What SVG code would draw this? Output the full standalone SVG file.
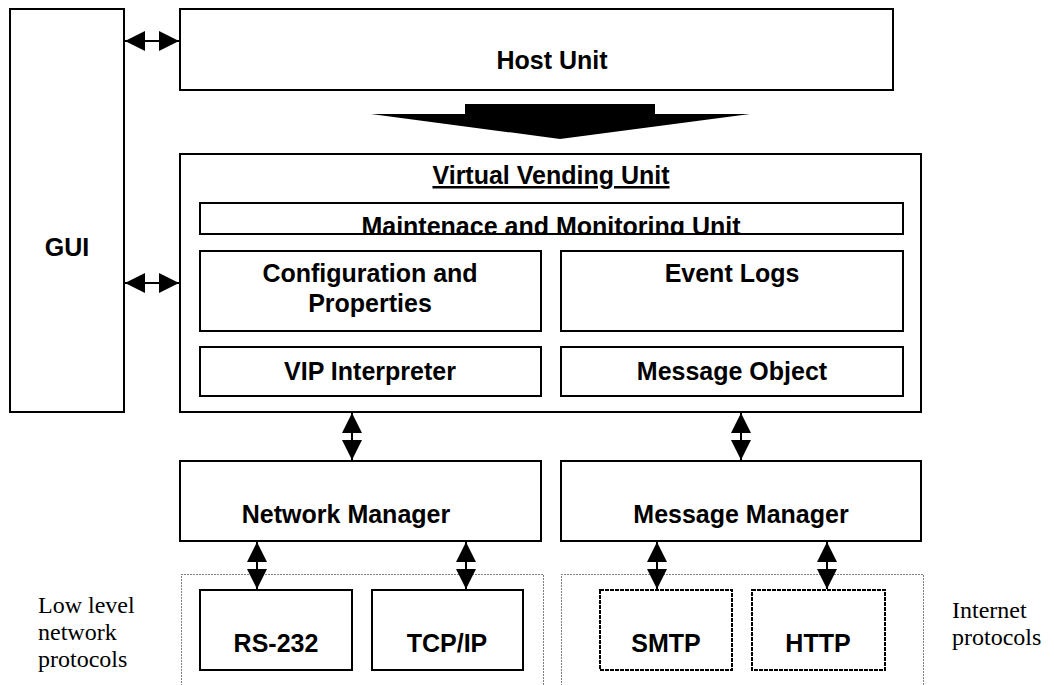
<svg xmlns="http://www.w3.org/2000/svg" width="1054" height="685" viewBox="0 0 1054 685">
<style>
.box{fill:#fff;stroke:#000;stroke-width:2}
.dash{fill:#fff;stroke:#000;stroke-width:2;stroke-dasharray:4 1}
.dot{fill:none;stroke:#000;stroke-width:1;stroke-dasharray:1 2}
.t{font-family:"Liberation Sans",Arial,sans-serif;font-weight:bold;font-size:25px;text-anchor:middle;fill:#000}
.s{font-family:"Liberation Serif","Times New Roman",serif;font-size:24px;fill:#000}
.c{stroke:#000;stroke-width:2;fill:none;marker-start:url(#ah);marker-end:url(#ah)}
</style>
<defs>
<marker id="ah" markerUnits="userSpaceOnUse" markerWidth="20" markerHeight="20" viewBox="0 0 20 20" refX="20" refY="10" orient="auto-start-reverse">
<path d="M0,0 L20,10 L0,20 Z" fill="#000"/>
</marker>
<clipPath id="mclip"><rect x="201" y="204" width="701" height="29"/></clipPath>
</defs>
<rect width="1054" height="685" fill="#fff"/>
<g id="gui"><rect class="box" x="10" y="9" width="114" height="403"/><text class="t" x="67" y="256">GUI</text></g>
<g id="host-unit"><rect class="box" x="180" y="9" width="713" height="81"/><text class="t" x="552" y="69">Host Unit</text></g>
<g id="big-arrow"><polygon points="465,104 655,104 655,114 750,114 560,139 371,114 465,114" fill="#000"/></g>
<g id="vvu"><rect class="box" x="180" y="154" width="741" height="258"/><text class="t" x="551" y="184" text-decoration="underline">Virtual Vending Unit</text></g>
<g id="maint"><rect class="box" x="200" y="203" width="703" height="31"/><text class="t" x="551" y="235" clip-path="url(#mclip)">Maintenace and Monitoring Unit</text></g>
<g id="config"><rect class="box" x="200" y="251" width="341" height="80"/><text class="t" x="370" y="282">Configuration and</text><text class="t" x="370" y="312">Properties</text></g>
<g id="event-logs"><rect class="box" x="561" y="251" width="342" height="80"/><text class="t" x="732" y="282">Event Logs</text></g>
<g id="vip"><rect class="box" x="200" y="347" width="341" height="49"/><text class="t" x="370" y="380">VIP Interpreter</text></g>
<g id="msg-obj"><rect class="box" x="561" y="347" width="342" height="49"/><text class="t" x="732" y="380">Message Object</text></g>
<g id="net-mgr"><rect class="box" x="180" y="461" width="361" height="80"/><text class="t" x="346" y="523">Network Manager</text></g>
<g id="msg-mgr"><rect class="box" x="561" y="461" width="360" height="80"/><text class="t" x="741" y="523">Message Manager</text></g>
<g id="low-group"><rect class="dot" x="181.5" y="574.5" width="362" height="130"/><text class="s" x="38" y="613">Low level</text><text class="s" x="38" y="640">network</text><text class="s" x="38" y="667">protocols</text></g>
<g id="inet-group"><rect class="dot" x="561.5" y="574.5" width="362" height="130"/><text class="s" x="952" y="618">Internet</text><text class="s" x="952" y="645">protocols</text></g>
<g id="rs232"><rect class="box" x="200" y="590" width="152" height="80"/><text class="t" x="276" y="652">RS-232</text></g>
<g id="tcpip"><rect class="box" x="372" y="590" width="151" height="80"/><text class="t" x="447" y="652">TCP/IP</text></g>
<g id="smtp"><rect class="dash" x="600" y="590" width="132" height="80"/><text class="t" x="666" y="652">SMTP</text></g>
<g id="http"><rect class="dash" x="752" y="590" width="133" height="80"/><text class="t" x="818" y="652">HTTP</text></g>
<g id="connectors">
<line class="c" x1="125" y1="41" x2="179" y2="41"/>
<line class="c" x1="125" y1="283" x2="179" y2="283"/>
<line class="c" x1="352" y1="413" x2="352" y2="460"/>
<line class="c" x1="741" y1="413" x2="741" y2="460"/>
<line class="c" x1="257" y1="542" x2="257" y2="589"/>
<line class="c" x1="466" y1="542" x2="466" y2="589"/>
<line class="c" x1="657" y1="542" x2="657" y2="589"/>
<line class="c" x1="827" y1="542" x2="827" y2="589"/>
</g>
</svg>
